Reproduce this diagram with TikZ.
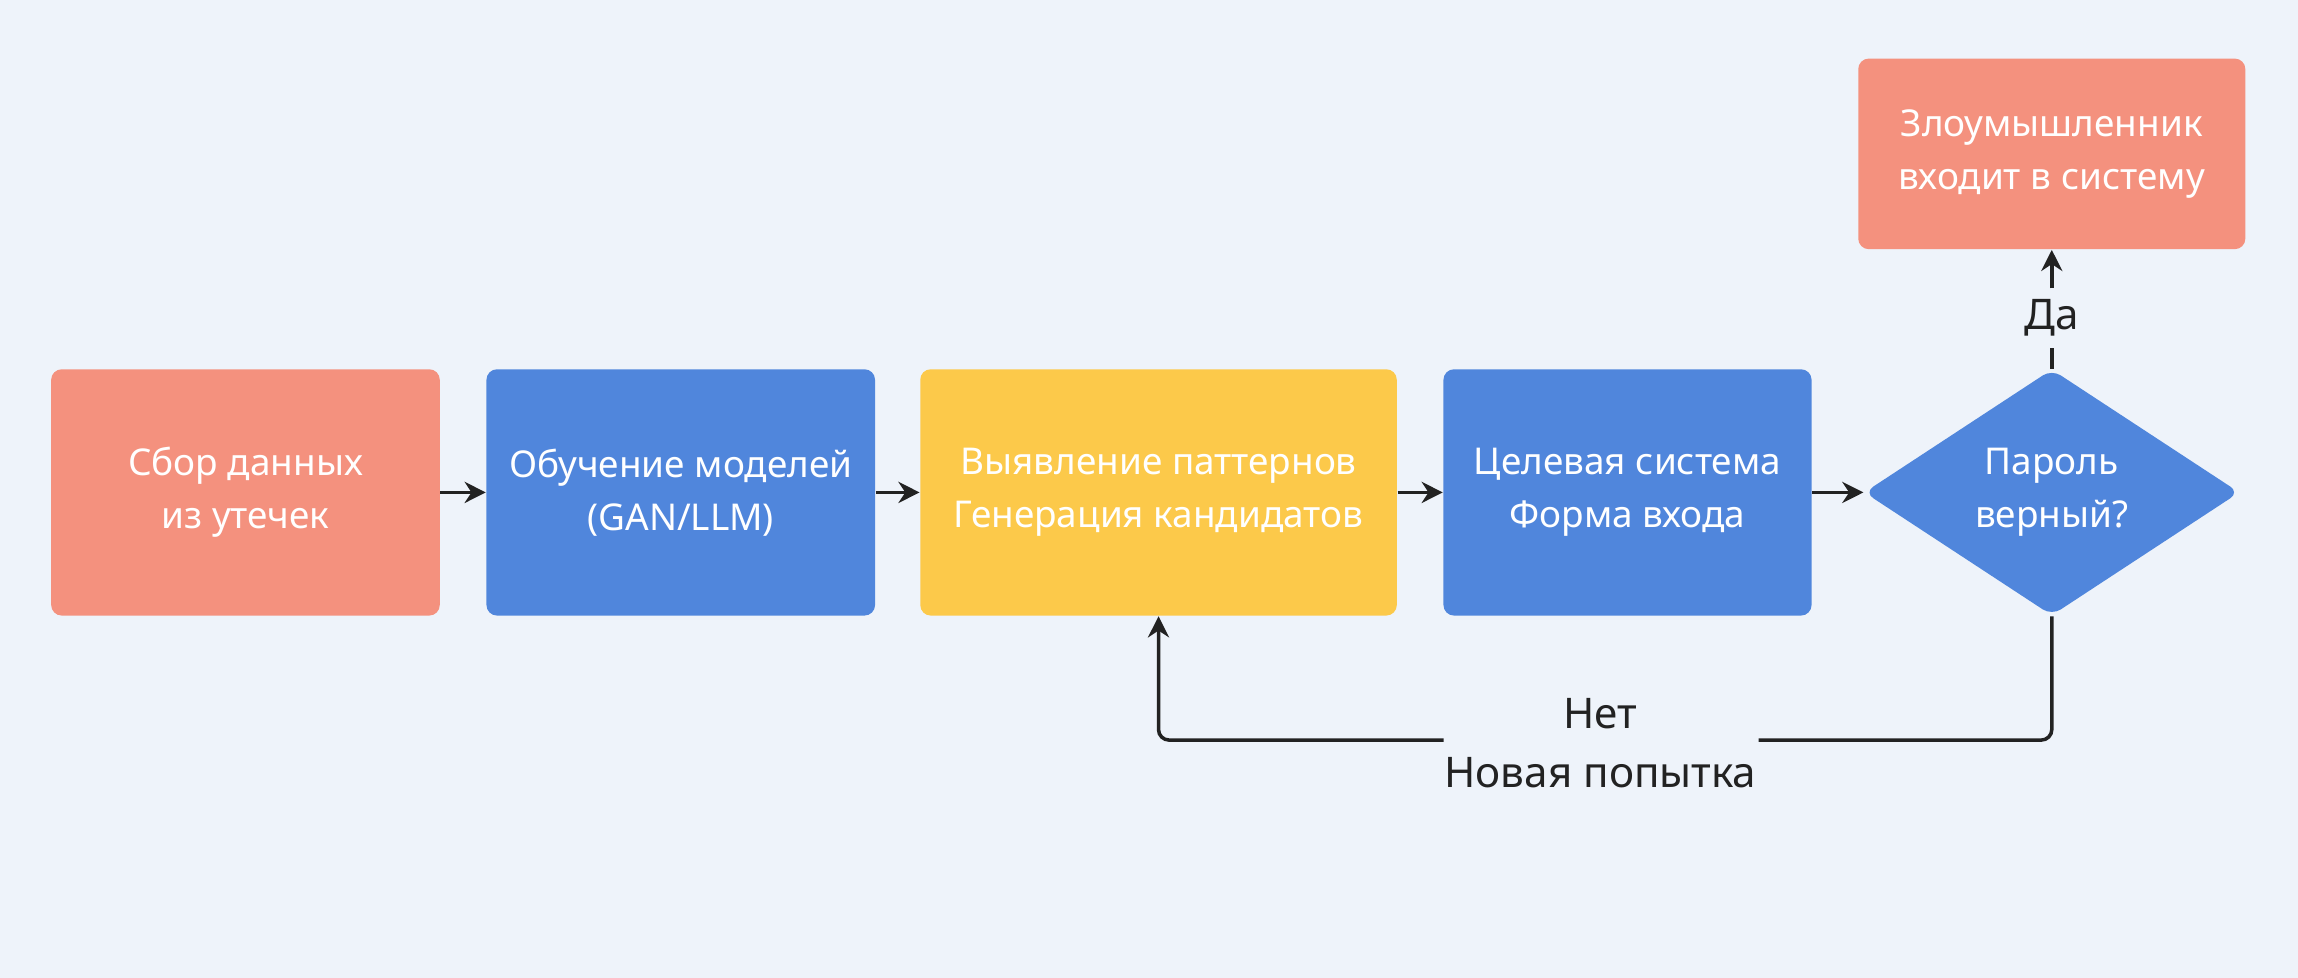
\documentclass[tikz,border=0pt]{standalone}
\usepackage{fontspec}
\setmainfont{Noto Sans}
\usetikzlibrary{arrows.meta,positioning,shapes.geometric}
\definecolor{PageBg}{HTML}{EEF3FA}
\definecolor{Salmon}{HTML}{F4917E}
\definecolor{StepBlue}{HTML}{5086DC}
\definecolor{StepYellow}{HTML}{FCC94A}
\definecolor{Ink}{HTML}{222222}
\begin{document}
\begin{tikzpicture}[x=0.014656cm,y=-0.014656cm,
    box/.style={rounded corners=3pt,fill=#1,minimum height=2.462cm,
                font=\fontsize{10.5}{15}\selectfont,text=white,
                inner sep=2pt,align=center},
    flow/.style={-{Stealth[length=6pt,width=6pt]},line width=1pt,Ink},
    line/.style={line width=1pt,Ink,rounded corners=3pt}]

    \fill[PageBg] (0,0) rectangle (1568,667);

    \node[box=Salmon,minimum width=3.884cm] (collect) at (167.5,336)
        {\textbf{Сбор данных}\\из утечек};
    \node[box=StepBlue,minimum width=3.884cm] (train) at (464.5,336)
        {\textbf{Обучение моделей}\\(GAN/LLM)};
    \node[box=StepYellow,minimum width=4.763cm] (gen) at (790.5,336)
        {\textbf{Выявление паттернов}\\Генерация кандидатов};
    \node[box=StepBlue,minimum width=3.679cm] (target) at (1110.5,336)
        {\textbf{Целевая система}\\Форма входа};
    \node[diamond,fill=StepBlue,rounded corners=3pt,minimum width=3.752cm,
          minimum height=2.462cm,inner sep=0pt,align=center,text=white,
          font=\fontsize{10.5}{15}\selectfont\bfseries] (check) at (1400,336)
        {Пароль\\верный?};
    \node[box=Salmon,minimum width=3.869cm,minimum height=1.905cm,
          font=\fontsize{10.5}{15}\selectfont\bfseries] (enter) at (1400,105)
        {Злоумышленник\\входит в систему};

    \foreach \a/\b in {collect/train,train/gen,gen/target,target/check}{
      \draw[flow] (\a) -- (\b);
    }

    % yes branch
    \node[font=\fontsize{12}{14}\selectfont\bfseries,text=Ink,inner sep=3pt] (yes) at (1400,217) {Да};
    \draw[line] (check.north) -- (yes);
    \draw[flow] (yes) -- (enter.south);

    % no branch
    \node[font=\fontsize{12}{14}\selectfont\bfseries,text=Ink] (no) at (1092,487) {Нет};
    \node[font=\fontsize{12}{14}\selectfont,text=Ink] (retry) at (1092,527) {Новая попытка};
    \coordinate (noR) at (1200,505);
    \coordinate (noL) at (985,505);
    \draw[line] (check.south) |- (noR);
    \draw[flow,rounded corners=3pt] (noL) -| (gen.south);
\end{tikzpicture}
\end{document}
